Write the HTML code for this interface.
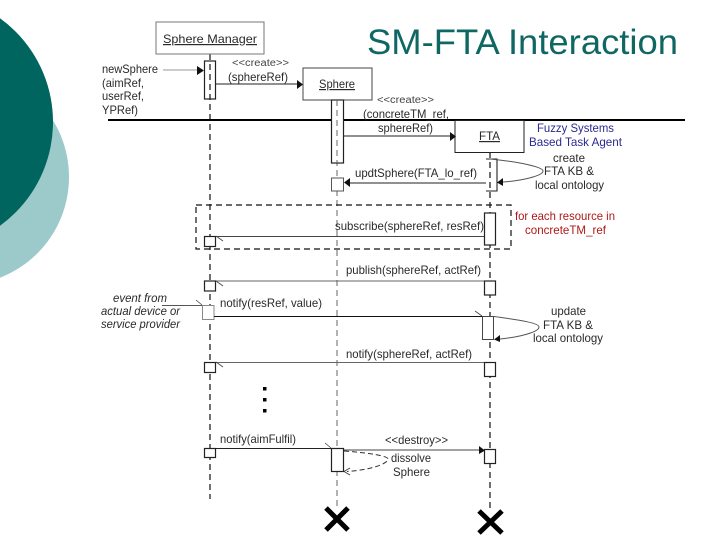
<!DOCTYPE html>
<html><head><meta charset="utf-8"><style>
html,body{margin:0;padding:0;background:#fff;width:720px;height:540px;overflow:hidden}
svg{display:block}
text{font-family:"Liberation Sans",sans-serif;font-size:12px;fill:#2a2a2a}
.b{fill:#fff;stroke:#222;stroke-width:1.2}
.l{stroke:#222;stroke-width:1.1;fill:none}
.g{stroke:#555;stroke-width:1;fill:none}
.d{stroke:#111;stroke-width:1.2;stroke-dasharray:6 4;fill:none}
.d2{stroke:#666;stroke-width:1;stroke-dasharray:6 4;fill:none}
</style></head><body>
<svg width="720" height="540" viewBox="0 0 720 540" xmlns="http://www.w3.org/2000/svg">
<circle cx="-39" cy="177" r="108" fill="#9ccacb"/>
<circle cx="-75" cy="122" r="128" fill="#00645f"/>
<text x="367" y="54" textLength="311" lengthAdjust="spacingAndGlyphs" style="font-size:35px;fill:#0f6764">SM-FTA Interaction</text>

<line x1="210" y1="54" x2="210" y2="499" class="d"/>
<line x1="337" y1="100" x2="337" y2="506" class="d2"/>
<line x1="490" y1="152" x2="490" y2="510" class="d"/>

<rect x="156" y="22" width="108" height="32" fill="#fff" stroke="#777" stroke-width="1"/>
<text x="163" y="43" textLength="94" lengthAdjust="spacingAndGlyphs" text-decoration="underline">Sphere Manager</text>
<rect x="303" y="68" width="69" height="32" fill="#fff" stroke="#444" stroke-width="1"/>
<text x="319" y="88" textLength="36" lengthAdjust="spacingAndGlyphs" text-decoration="underline">Sphere</text>

<line x1="108" y1="120" x2="685" y2="120" stroke="#000" stroke-width="2"/>

<rect x="455" y="120.500" width="69" height="32" fill="#fff" stroke="#222" stroke-width="1"/>
<text x="479" y="140" textLength="21" lengthAdjust="spacingAndGlyphs" text-decoration="underline">FTA</text>

<rect x="204.500" y="61" width="11" height="38" fill="none" stroke="#222" stroke-width="1.2"/>
<rect x="331.500" y="100" width="12" height="63" fill="#fff" stroke="#222" stroke-width="1.2"/>
<line x1="337" y1="100" x2="337" y2="163" class="d2"/>
<rect x="331.500" y="178" width="12" height="13" fill="#fff" stroke="#555"/>
<path d="M486 159H497V191H486" class="l"/>
<rect x="484.500" y="213" width="11" height="32" class="b"/>

<line x1="163" y1="70" x2="197" y2="70" stroke="#999"/>
<path d="M197 66L204 70.500L197 75Z" fill="#111"/>
<line x1="216" y1="84" x2="298" y2="84" class="l"/>
<path d="M297 80L303 84.500L297 89Z" fill="#111"/>
<line x1="344" y1="136" x2="450" y2="136" class="l"/>
<path d="M450 132L456 136.500L450 141Z" fill="#111"/>
<line x1="486" y1="183" x2="349" y2="183" class="l"/>
<path d="M350 178L344 182.500L350 187Z" fill="#111"/>
<path d="M490 159C520 162 543 167 543 171C543 176 520 181 503 182" class="g"/>
<path d="M503 178L497 182.500L503 186Z" fill="#111"/>

<rect x="196" y="205" width="315" height="44" class="d" fill="none"/>

<line x1="216" y1="236.500" x2="484" y2="236.500" stroke="#444"/>
<rect x="204.500" y="236.500" width="11" height="10" class="b"/>
<line x1="216" y1="236" x2="223" y2="241" stroke="#444" stroke-width=".8"/>

<line x1="216" y1="281" x2="484" y2="281" stroke="#666"/>
<rect x="204.500" y="281" width="11" height="10" class="b"/>
<line x1="216" y1="281" x2="223" y2="286" stroke="#444" stroke-width=".8"/>
<rect x="484.500" y="281" width="11" height="14" class="b"/>

<line x1="162" y1="305.500" x2="202" y2="305.500" stroke="#555"/>
<line x1="196" y1="300" x2="202" y2="305" stroke="#444" stroke-width=".8"/>
<rect x="202.500" y="305.500" width="11.500" height="14" fill="#fff" stroke="#888"/>
<line x1="214" y1="316.500" x2="482" y2="316.500" stroke="#111" stroke-width="1.1"/>
<line x1="475" y1="311" x2="482" y2="316" stroke="#444" stroke-width=".8"/>
<rect x="482.500" y="316.500" width="11" height="23" fill="#fff" stroke="#444"/>
<path d="M494 316.500C520 320 539 323 539 327C539 332 520 337 500 339" class="g"/>
<path d="M500 335L494 339.500L500 342Z" fill="#111"/>

<line x1="216" y1="362.500" x2="484" y2="362.500" stroke="#666"/>
<rect x="204.500" y="362.500" width="11" height="10" class="b"/>
<line x1="216" y1="362" x2="223" y2="367" stroke="#444" stroke-width=".8"/>
<rect x="484.500" y="362.500" width="11" height="14" class="b"/>

<rect x="263" y="387" width="3.500" height="3.500" fill="#000"/>
<rect x="263" y="398" width="3.500" height="3.500" fill="#000"/>
<rect x="263" y="409" width="3.500" height="3.500" fill="#000"/>

<line x1="216" y1="448.500" x2="331" y2="448.500" stroke="#222"/>
<rect x="204.500" y="448.500" width="11" height="9" class="b"/>
<line x1="325" y1="443" x2="331" y2="448" stroke="#444" stroke-width=".8"/>
<rect x="331.500" y="448.500" width="12" height="23" class="b"/>
<line x1="344" y1="450" x2="479" y2="450" stroke="#444"/>
<path d="M479 446L485 450.500L479 454Z" fill="#111"/>
<rect x="484.500" y="449.500" width="11" height="14" class="b"/>
<path d="M344 451C370 453 388 456 388 459C388 464 370 470 347 471.500" fill="none" stroke="#333" stroke-dasharray="5 3"/>
<path d="M350 468L344 471.500L350 475" fill="none" stroke="#333" stroke-width=".8"/>

<path d="M326 508L348 530M348 508L326 530" stroke="#000" stroke-width="5"/>
<path d="M479 511L502 533M502 511L479 533" stroke="#000" stroke-width="5"/>

<text x="102" y="73" textLength="56" lengthAdjust="spacingAndGlyphs">newSphere</text>
<text x="102" y="87" textLength="42" lengthAdjust="spacingAndGlyphs">(aimRef,</text>
<text x="102" y="100" textLength="42" lengthAdjust="spacingAndGlyphs">userRef,</text>
<text x="102" y="114" textLength="36" lengthAdjust="spacingAndGlyphs">YPRef)</text>
<text x="232" y="66" textLength="57" lengthAdjust="spacingAndGlyphs" style="font-size:10px;fill:#444">&lt;&lt;create&gt;&gt;</text>
<text x="228" y="81" textLength="60" lengthAdjust="spacingAndGlyphs">(sphereRef)</text>
<text x="377" y="103" textLength="57" lengthAdjust="spacingAndGlyphs" style="font-size:10px;fill:#444">&lt;&lt;create&gt;&gt;</text>
<text x="363" y="118" textLength="86" lengthAdjust="spacingAndGlyphs">(concreteTM_ref,</text>
<text x="378" y="132" textLength="55" lengthAdjust="spacingAndGlyphs">sphereRef)</text>
<text x="537" y="132" textLength="77" lengthAdjust="spacingAndGlyphs" style="fill:#2a2a90">Fuzzy Systems</text>
<text x="529" y="146" textLength="93" lengthAdjust="spacingAndGlyphs" style="fill:#2a2a90">Based Task Agent</text>
<text x="553" y="162" textLength="32" lengthAdjust="spacingAndGlyphs">create</text>
<text x="544" y="175" textLength="50" lengthAdjust="spacingAndGlyphs">FTA KB &amp;</text>
<text x="535" y="189" textLength="69" lengthAdjust="spacingAndGlyphs">local ontology</text>
<text x="355" y="177" textLength="122" lengthAdjust="spacingAndGlyphs">updtSphere(FTA_lo_ref)</text>
<text x="335" y="230" textLength="149" lengthAdjust="spacingAndGlyphs">subscribe(sphereRef, resRef)</text>
<text x="515" y="220" textLength="100" lengthAdjust="spacingAndGlyphs" style="fill:#b01818">for each resource in</text>
<text x="525" y="234" textLength="81" lengthAdjust="spacingAndGlyphs" style="fill:#b01818">concreteTM_ref</text>
<text x="346" y="274" textLength="135" lengthAdjust="spacingAndGlyphs">publish(sphereRef, actRef)</text>
<text x="113" y="302" textLength="54" lengthAdjust="spacingAndGlyphs" style="font-style:italic">event from</text>
<text x="101" y="315" textLength="79" lengthAdjust="spacingAndGlyphs" style="font-style:italic">actual device or</text>
<text x="101" y="328" textLength="79" lengthAdjust="spacingAndGlyphs" style="font-style:italic">service provider</text>
<text x="220" y="307" textLength="102" lengthAdjust="spacingAndGlyphs">notify(resRef, value)</text>
<text x="551" y="315" textLength="35" lengthAdjust="spacingAndGlyphs">update</text>
<text x="543" y="329" textLength="50" lengthAdjust="spacingAndGlyphs">FTA KB &amp;</text>
<text x="533" y="342" textLength="70" lengthAdjust="spacingAndGlyphs">local ontology</text>
<text x="346" y="358" textLength="126" lengthAdjust="spacingAndGlyphs">notify(sphereRef, actRef)</text>
<text x="220" y="443" textLength="76" lengthAdjust="spacingAndGlyphs">notify(aimFulfil)</text>
<text x="385" y="444" textLength="63" lengthAdjust="spacingAndGlyphs">&lt;&lt;destroy&gt;&gt;</text>
<text x="391" y="462" textLength="40" lengthAdjust="spacingAndGlyphs">dissolve</text>
<text x="393" y="476" textLength="37" lengthAdjust="spacingAndGlyphs">Sphere</text>
</svg>
</body></html>
